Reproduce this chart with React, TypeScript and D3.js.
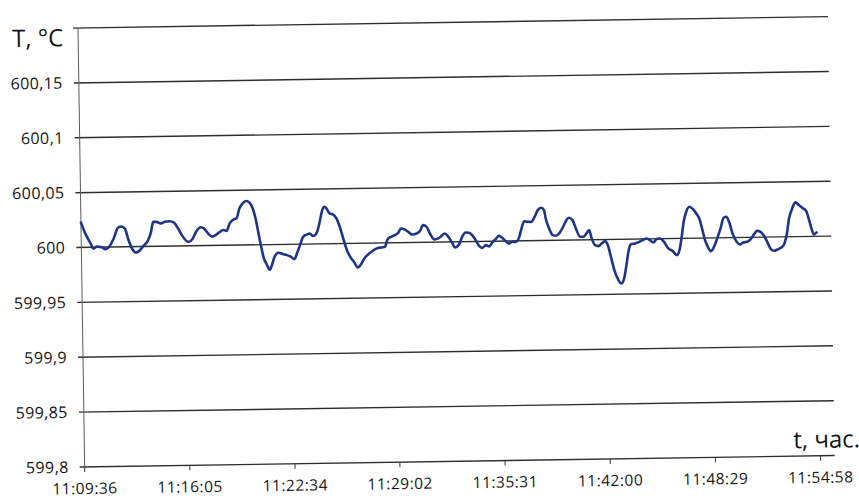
import React from 'react';
import * as d3 from 'd3';

// ---- data ----
const startTime = '11:09:36';
const xAxisEnd = '11:55:50';
const xTickLabels = ['11:09:36', '11:16:05', '11:22:34', '11:29:02', '11:35:31', '11:42:00', '11:48:29', '11:54:58'];
const yTickValues = [599.8, 599.85, 599.9, 599.95, 600, 600.05, 600.1, 600.15];
const yTickLabels = ['599,8', '599,85', '599,9', '599,95', '600', '600,05', '600,1', '600,15'];
const yMin = 599.8;
const yMax = 600.2;
const yStep = 0.05;
const yTitle = 'T, °C';
const xTitle = 't, час.';

// elapsed seconds since startTime
const elapsedSec = [
  0, 14, 33, 45, 57, 76, 88, 100, 119, 137, 150, 162, 174, 189, 202, 214, 230, 246, 258, 267,
  279, 295, 310, 328, 344, 359, 374, 396, 411, 427, 443, 455, 470, 485, 497, 510, 526, 538, 550, 566,
  575, 587, 599, 612, 624, 636, 646, 655, 664, 673, 686, 696, 704, 714, 729, 745, 760, 775, 788, 797,
  809, 821, 836, 846, 856, 865, 873, 883, 893, 902, 910, 920, 932, 945, 957, 969, 982, 994, 1009, 1021,
  1034, 1046, 1062, 1078, 1093, 1111, 1123, 1133, 1146, 1160, 1173, 1183, 1195, 1210, 1224, 1241, 1253, 1265, 1278, 1290,
  1306, 1321, 1333, 1345, 1358, 1370, 1382, 1397, 1409, 1422, 1434, 1446, 1459, 1471, 1483, 1496, 1508, 1520, 1533, 1545,
  1557, 1570, 1582, 1594, 1607, 1619, 1629, 1639, 1651, 1666, 1678, 1690, 1703, 1713, 1719, 1731, 1744, 1756, 1768, 1783,
  1795, 1805, 1818, 1830, 1845, 1857, 1869, 1879, 1888, 1900, 1912, 1925, 1937, 1947, 1958, 1970, 1983, 1995, 2005, 2015,
  2023, 2032, 2048, 2064, 2076, 2091, 2103, 2116, 2128, 2140, 2155, 2171, 2187, 2202, 2212, 2221, 2229, 2239, 2251, 2264,
  2276, 2288, 2298, 2307, 2317, 2328, 2340, 2352, 2365, 2377, 2387, 2397, 2409, 2424, 2436, 2448, 2463, 2476, 2488, 2500,
  2513, 2525, 2537, 2550, 2562, 2574, 2587, 2599, 2609, 2619, 2631, 2643, 2656, 2668, 2683, 2693, 2703, 2710, 2720,
];

const temperature = [
  600.0227, 600.0135, 600.0043, 599.9988, 600.0006, 600.0000, 599.9981, 599.9995, 600.0071, 600.0176,
  600.0185, 600.0166, 600.0069, 599.9977, 599.9946, 599.9961, 600.0006, 600.0051, 600.0126, 600.0223,
  600.0223, 600.0207, 600.0222, 600.0227, 600.0214, 600.0159, 600.0092, 600.0036, 600.0060, 600.0135,
  600.0168, 600.0155, 600.0109, 600.0081, 600.0093, 600.0117, 600.0140, 600.0131, 600.0200, 600.0236,
  600.0243, 600.0335, 600.0380, 600.0400, 600.0387, 600.0332, 600.0240, 600.0119, 599.9997, 599.9890,
  599.9813, 599.9770, 599.9813, 599.9888, 599.9924, 599.9912, 599.9902, 599.9886, 599.9864, 599.9916,
  599.9991, 600.0067, 600.0088, 600.0096, 600.0074, 600.0080, 600.0110, 600.0201, 600.0307, 600.0337,
  600.0316, 600.0276, 600.0266, 600.0229, 600.0153, 600.0046, 599.9939, 599.9878, 599.9826, 599.9780,
  599.9810, 599.9861, 599.9900, 599.9930, 599.9951, 599.9959, 599.9964, 600.0033, 600.0054, 600.0069,
  600.0090, 600.0129, 600.0122, 600.0097, 600.0073, 600.0081, 600.0102, 600.0156, 600.0140, 600.0079,
  600.0024, 600.0033, 600.0056, 600.0077, 600.0046, 600.0000, 599.9948, 599.9975, 600.0044, 600.0083,
  600.0080, 600.0058, 600.0012, 599.9960, 599.9941, 599.9965, 599.9953, 599.9988, 600.0019, 600.0048,
  600.0030, 599.9999, 599.9977, 599.9992, 599.9991, 600.0027, 600.0112, 600.0178, 600.0172, 600.0171,
  600.0217, 600.0277, 600.0298, 600.0276, 600.0200, 600.0109, 600.0047, 600.0041, 600.0062, 600.0122,
  600.0182, 600.0203, 600.0181, 600.0105, 600.0029, 600.0028, 600.0058, 600.0088, 600.0012, 599.9950,
  599.9941, 599.9965, 599.9985, 599.9949, 599.9842, 599.9720, 599.9637, 599.9597, 599.9636, 599.9764,
  599.9885, 599.9951, 599.9960, 599.9974, 599.9989, 600.0004, 599.9988, 599.9967, 599.9997, 600.0002,
  599.9971, 599.9910, 599.9885, 599.9848, 599.9893, 600.0014, 600.0151, 600.0242, 600.0287, 600.0265,
  600.0225, 600.0172, 600.0072, 599.9981, 599.9919, 599.9880, 599.9919, 599.9994, 600.0085, 600.0182,
  600.0190, 600.0144, 600.0038, 599.9961, 599.9936, 599.9954, 599.9960, 599.9983, 600.0026, 600.0058,
  600.0049, 600.0012, 599.9957, 599.9889, 599.9874, 599.9885, 599.9900, 599.9930, 600.0015, 600.0167,
  600.0257, 600.0312, 600.0287, 600.0262, 600.0231, 600.0148, 600.0057, 600.0017, 600.0035,
];

const toSec = (s: string) => {
  const [h, m, sec] = s.split(':').map(Number);
  return h * 3600 + m * 60 + sec;
};

export default function App() {
  const W = 859;
  const H = 499;
  const left = 78;
  const top = 28;
  const plotW = 750;
  const plotH = 439;
  const t0 = toSec(startTime);

  const x = d3.scaleLinear().domain([0, toSec(xAxisEnd) - t0]).range([left, left + plotW]);
  const y = d3.scaleLinear().domain([yMin, yMax]).range([top + plotH, top]);

  const gridValues = d3.range(yMin, yMax + yStep / 2, yStep);
  const line = d3
    .line<number>()
    .x((_, i) => x(elapsedSec[i]))
    .y((d) => y(d))
    .curve(d3.curveMonotoneX);

  const font = "'Open Sans', 'Noto Sans', sans-serif";
  const textColor = '#151515';

  return (
    <svg
      width={W}
      height={H}
      viewBox={`0 0 ${W} ${H}`}
      style={{ position: 'absolute', left: 0, top: 0, background: '#ffffff' }}
    >
      <rect x={0} y={0} width={W} height={H} fill="#ffffff" />
      <g transform={`rotate(-0.87 ${left} ${top})`}>
        {/* gridlines */}
        {gridValues.map((v, i) => (
          <line
            key={`g${i}`}
            x1={left - 5}
            x2={left + plotW}
            y1={y(v)}
            y2={y(v)}
            stroke="#2e2e2e"
            strokeWidth={1.4}
          />
        ))}
        {/* y axis */}
        <line x1={left} x2={left} y1={top} y2={top + plotH} stroke="#5a5a5a" strokeWidth={1} />
        {/* x ticks */}
        {xTickLabels.map((lab, i) => {
          const xx = x(toSec(lab) - t0);
          return (
            <g key={`xt${i}`}>
              <line x1={xx} x2={xx} y1={top + plotH} y2={top + plotH + 5} stroke="#333" strokeWidth={1} />
              <text
                x={xx}
                y={top + plotH + 27}
                textAnchor="middle"
                fontFamily={font}
                fontSize={15.5}
                fontWeight={500}
                letterSpacing={0.5}
                fill={textColor}
              >
                {lab}
              </text>
            </g>
          );
        })}
        {/* y tick labels */}
        {yTickValues.map((v, i) => (
          <text
            key={`yt${i}`}
            x={62}
            y={y(v)}
            dy="0.35em"
            textAnchor="end"
            fontFamily={font}
            fontSize={16}
            fontWeight={500}
            letterSpacing={0.4}
            fill={textColor}
          >
            {yTickLabels[i]}
          </text>
        ))}
        {/* titles */}
        <text x={12} y={46} fontFamily={font} fontSize={24} fontWeight={500} fill={textColor}>
          {yTitle}
        </text>
        <text x={787} y={459} fontFamily={font} fontSize={24} fontWeight={500} fill={textColor}>
          {xTitle}
        </text>
        {/* data line */}
        <path
          d={line(temperature) ?? ''}
          fill="none"
          stroke="#1f3585"
          strokeWidth={2.6}
          strokeLinejoin="round"
          strokeLinecap="round"
        />
      </g>
    </svg>
  );
}
